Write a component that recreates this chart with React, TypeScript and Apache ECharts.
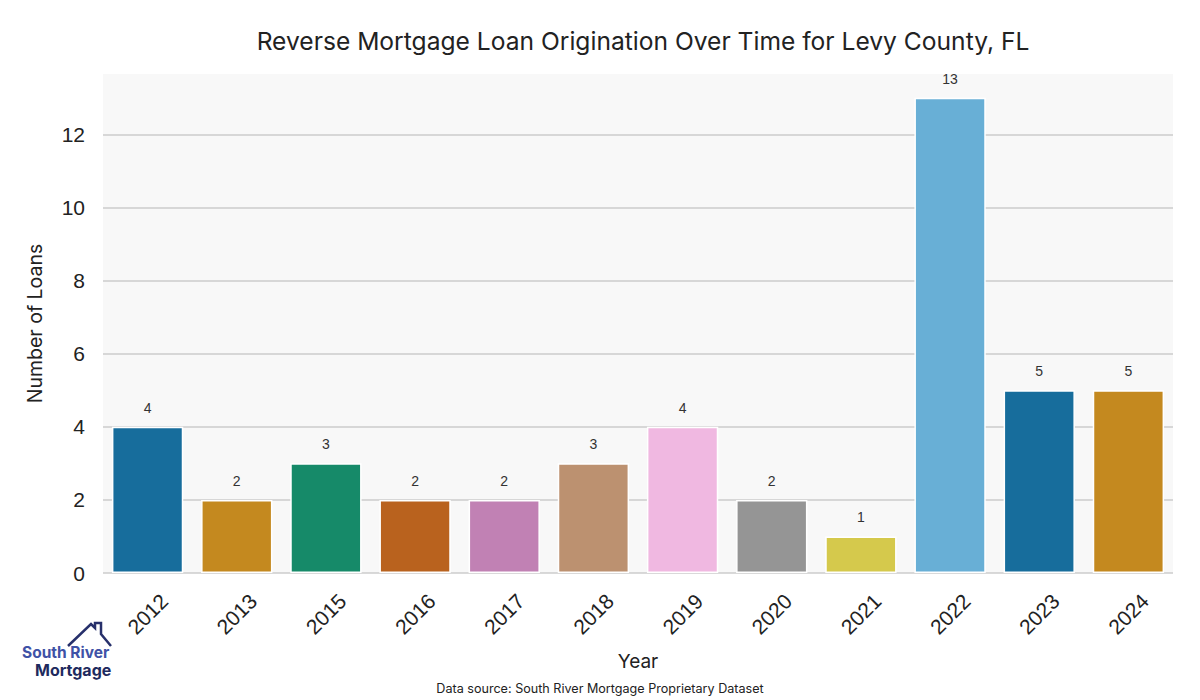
import React, { useEffect, useRef } from "react";
import * as echarts from "echarts";

const years = ["2012", "2013", "2015", "2016", "2017", "2018", "2019", "2020", "2021", "2022", "2023", "2024"];
const loans = [4, 2, 3, 2, 2, 3, 4, 2, 1, 13, 5, 5];
const barColors = [
  "#176d9c", "#c4891f", "#168a69", "#b9621e", "#c181b4", "#bc9170",
  "#f0b8e1", "#959595", "#d5c94c", "#68afd6", "#176d9c", "#c4891f",
];

export default function App() {
  const ref = useRef<HTMLDivElement>(null);
  useEffect(() => {
    if (!ref.current) return;
    const chart = echarts.init(ref.current, null, { renderer: "svg" });
    chart.setOption({
      animation: false,
      backgroundColor: "#ffffff",
      title: {
        text: "Reverse Mortgage Loan Origination Over Time for Levy County, FL",
        left: 638,
        top: 23,
        textAlign: "center",
        textStyle: { fontFamily: "Inter", fontSize: 24.6, fontWeight: "normal", color: "#222222" },
      },
      grid: {
        left: 103,
        right: 27,
        top: 74,
        bottom: 127,
        show: true,
        backgroundColor: "#f8f8f8",
        borderWidth: 0,
      },
      xAxis: {
        type: "category",
        data: years,
        name: "Year",
        nameLocation: "middle",
        nameGap: 79,
        nameTextStyle: { fontFamily: "Inter", fontSize: 19, color: "#222222" },
        axisLine: { show: false },
        axisTick: { show: false },
        axisLabel: {
          rotate: 45,
          margin: 41,
          align: "center",
          verticalAlign: "middle",
          fontFamily: "Liberation Sans",
          fontSize: 21,
          color: "#222222",
        },
      },
      yAxis: {
        type: "value",
        min: 0,
        max: 13.65,
        interval: 2,
        name: "Number of Loans",
        nameLocation: "middle",
        nameGap: 58,
        nameTextStyle: { fontFamily: "Inter", fontSize: 19.5, color: "#222222" },
        axisLine: { show: false },
        axisTick: { show: false },
        axisLabel: {
          showMaxLabel: false,
          margin: 18,
          fontFamily: "Liberation Sans",
          fontSize: 21,
          color: "#222222",
        },
        splitLine: {
          show: true,
          showMaxLine: false,
          lineStyle: { color: "#cccccc", width: 1.5 },
        },
      },
      series: [
        {
          type: "bar",
          data: loans.map((v, i) => ({ value: v, itemStyle: { color: barColors[i] } })),
          barWidth: "80%",
          itemStyle: { borderColor: "#ffffff", borderWidth: 1.5 },
          label: {
            show: true,
            position: "top",
            distance: 12,
            fontFamily: "Liberation Sans",
            fontSize: 14,
            color: "#333333",
          },
        },
      ],
      graphic: [
        {
          type: "polyline",
          shape: {
            points: [[68, 646], [91, 624], [95, 628], [95, 623], [101, 623], [101, 634], [111, 646]],
          },
          style: { stroke: "#27306b", lineWidth: 2.5, fill: "none" },
        },
        {
          type: "text",
          x: 22,
          y: 652,
          style: { text: "South River", fontFamily: "Inter", fontWeight: "bold", fontSize: 15.5, fill: "#3f52a6", verticalAlign: "middle" },
        },
        {
          type: "text",
          x: 35,
          y: 670,
          style: { text: "Mortgage", fontFamily: "Inter", fontWeight: "bold", fontSize: 16, fill: "#1e2a5e", verticalAlign: "middle" },
        },
        {
          type: "text",
          x: 600,
          y: 682,
          style: {
            text: "Data source: South River Mortgage Proprietary Dataset",
            fontFamily: "Inter",
            fontSize: 12.6,
            fill: "#222222",
            align: "center",
          },
        },
      ],
    });
    return () => chart.dispose();
  }, []);
  return <div ref={ref} style={{ position: "fixed", left: 0, top: 0, width: 1200, height: 700 }} />;
}
